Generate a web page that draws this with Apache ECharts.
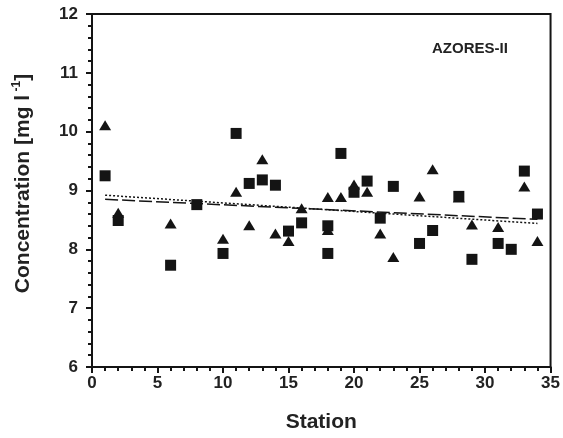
<!DOCTYPE html>
<html><head><meta charset="utf-8">
<script src="https://cdn.jsdelivr.net/npm/echarts@6/dist/echarts.min.js"></script>
<style>html,body{margin:0;padding:0;background:#fff}#c{width:563px;height:438px}</style>
</head><body><div id="c"></div>
<script>
// Squares series
const squareX = [1,2,6,8,10,11,12,13,14,15,16,18,18,19,20,21,22,23,25,26,28,29,31,32,33,34];
const squareY = [9.25,8.49,7.73,8.76,7.93,9.97,9.12,9.18,9.09,8.31,8.45,8.40,7.93,9.63,8.97,9.16,8.53,9.07,8.10,8.32,8.90,7.83,8.10,8.00,9.33,8.60];
// Triangles series
const triangleX = [1,2,6,10,11,12,13,14,15,16,18,18,19,20,21,22,23,25,26,28,29,31,33,34];
const triangleY = [10.11,8.62,8.44,8.18,8.98,8.41,9.53,8.27,8.14,8.70,8.89,8.33,8.89,9.10,8.98,8.27,7.87,8.90,9.36,8.88,8.42,8.38,9.07,8.14];
// Regression lines (endpoints)
const dashLineX = [1, 34];
const dashLineY = [8.85, 8.51];
const dotLineX = [1, 34];
const dotLineY = [8.92, 8.44];
const panelLabel = 'AZORES-II';

const zip = (xs, ys) => xs.map((x, i) => [x, ys[i]]);
const FONT = '"Liberation Sans", Arial, Helvetica, sans-serif';
const INK = '#141414';
const chart = echarts.init(document.getElementById('c'));
chart.setOption({
  animation: false,
  backgroundColor: '#fff',
  grid: { left: 92, right: 10, top: 14, bottom: 70, show: true, borderColor: INK, borderWidth: 2, backgroundColor: 'transparent' },
  xAxis: {
    type: 'value', min: 0, max: 35, interval: 5,
    name: 'Station', nameLocation: 'middle', nameGap: 45,
    nameTextStyle: { fontFamily: FONT, fontWeight: 'bold', fontSize: 21, color: '#222' },
    axisLine: { show: true, lineStyle: { color: INK, width: 2 } },
    axisTick: { show: true, inside: false, length: 6, lineStyle: { color: INK, width: 2 } },
    minorTick: { show: true, splitNumber: 5, length: 4, lineStyle: { color: INK, width: 2 } },
    axisLabel: { fontFamily: FONT, fontWeight: 'bold', fontSize: 17, color: '#222', margin: 8 },
    splitLine: { show: false }
  },
  yAxis: {
    type: 'value', min: 6, max: 12, interval: 1,
    name: '{a|Concentration [mg l}{b| -1}{a|]}', nameLocation: 'middle', nameGap: 57, nameRotate: 90,
    nameTextStyle: { fontFamily: FONT, fontWeight: 'bold', fontSize: 21, color: '#222', padding: [0, 0, 0, 14],
      rich: {
        a: { fontFamily: FONT, fontWeight: 'bold', fontSize: 21, color: '#222', lineHeight: 24 },
        b: { fontFamily: FONT, fontWeight: 'bold', fontSize: 12, color: '#222', verticalAlign: 'top', lineHeight: 24, padding: [0, 0, 13, 0] }
      } },
    axisLine: { show: true, lineStyle: { color: INK, width: 2 } },
    axisTick: { show: true, inside: false, length: 6, lineStyle: { color: INK, width: 2 } },
    minorTick: { show: true, splitNumber: 5, length: 4, lineStyle: { color: INK, width: 2 } },
    axisLabel: { fontFamily: FONT, fontWeight: 'bold', fontSize: 17, color: '#222', margin: 14 },
    splitLine: { show: false }
  },
  graphic: [{
    type: 'text', left: 432, top: 41,
    style: { text: panelLabel, fontFamily: FONT, fontWeight: 'bold', fontSize: 15, fill: '#222' }
  }],
  series: [
    { type: 'line', data: zip(dashLineX, dashLineY), symbol: 'none', z: 1,
      lineStyle: { color: INK, width: 1.5, type: [13, 4] } },
    { type: 'line', data: zip(dotLineX, dotLineY), symbol: 'none', z: 1,
      lineStyle: { color: INK, width: 1.5, type: [2, 2] } },
    { type: 'scatter', data: zip(triangleX, triangleY), symbol: 'triangle', symbolSize: [12, 10], z: 3,
      itemStyle: { color: INK, opacity: 1 } },
    { type: 'scatter', data: zip(squareX, squareY), symbol: 'rect', symbolSize: 11, z: 3,
      itemStyle: { color: INK, opacity: 1 } }
  ]
});
</script></body></html>
